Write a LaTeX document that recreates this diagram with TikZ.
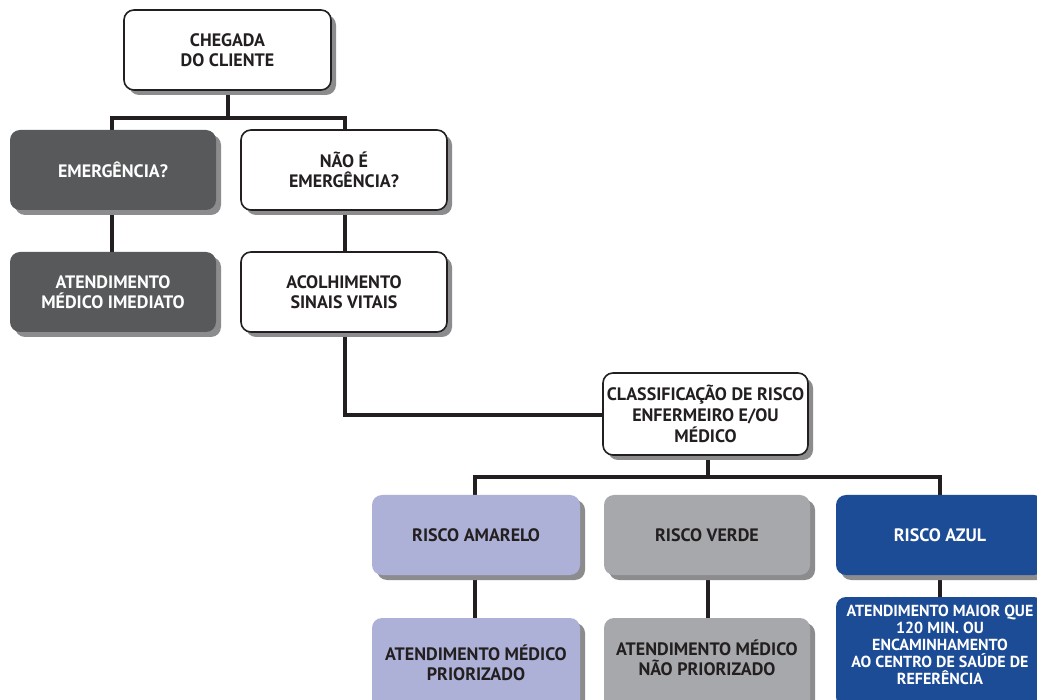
\documentclass[tikz,border=0pt]{standalone}
\usepackage{fontspec}
\setmainfont{PT Sans}
\usetikzlibrary{shadows}
\definecolor{darkbox}{HTML}{58595B}
\definecolor{yellowbox}{HTML}{ADB1D7}
\definecolor{greenbox}{HTML}{A7A8AB}
\definecolor{bluebox}{HTML}{1D4C97}
\definecolor{shadowc}{HTML}{8C8C8E}
\definecolor{txt}{HTML}{231F20}
\tikzset{
  boxfont/.style={font=\bfseries\fontsize{18}{20}\selectfont},
  box/.style={rounded corners=10pt, minimum width=206pt, minimum height=80pt, inner sep=0pt,
    align=center, boxfont,
    drop shadow={shadow xshift=5pt, shadow yshift=-5pt, fill=shadowc, opacity=1}},
  whitebox/.style={box, draw=txt, line width=1.6pt, fill=white, text=txt},
  darkb/.style={box, fill=darkbox, text=white},
  yellowb/.style={box, fill=yellowbox, text=txt},
  greenb/.style={box, fill=greenbox, text=txt},
  blueb/.style={box, fill=bluebox, text=white},
  boxtext/.style={inner sep=0pt, align=center, boxfont},
  conn/.style={line width=4pt, draw=txt}
}
\begin{document}
\begin{tikzpicture}[x=1pt,y=-1pt]
\useasboundingbox (0,0) rectangle (1037,700);
\clip (0,0) rectangle (1037,700);
\fill[white] (0,0) rectangle (1037,700);
% connectors first
\coordinate (b1) at (228,118);
\coordinate (b1l) at (112,118);
\coordinate (b1r) at (345,118);
\coordinate (c1) at (345,415);
\coordinate (b2) at (708,477);
\coordinate (b2l) at (475,477);
\coordinate (b2r) at (940,477);
\draw[conn] (228,60) -- (b1);
\draw[conn] (112,140) -- (b1l) -- (b1r) -- (345,140);
\draw[conn] (112,200) -- (112,260);
\draw[conn] (345,200) -- (345,260);
\draw[conn] (345,320) -- (c1) -- (615,415);
\draw[conn] (708,440) -- (b2);
\draw[conn] (475,510) -- (b2l) -- (b2r) -- (940,510);
\draw[conn] (708,495) -- (708,510);
\draw[conn] (475,560) -- (475,630);
\draw[conn] (708,560) -- (708,630);
\draw[conn] (940,560) -- (940,610);
% nodes
\node[whitebox, minimum width=207pt] (chegada) at (227.5,50) {CHEGADA\\DO CLIENTE};
\node[darkb] (emerg) at (113,170) {EMERGÊNCIA?};
\node[whitebox] (naoe) at (344,170) {NÃO É\\EMERGÊNCIA?};
\node[darkb] (imed) at (113,292) {ATENDIMENTO\\MÉDICO IMEDIATO};
\node[whitebox] (acolh) at (344,292) {ACOLHIMENTO\\SINAIS VITAIS};
\node[whitebox, minimum width=205pt, minimum height=82pt, font=\bfseries\fontsize{18}{21}\selectfont] (classif) at (705.5,414) {CLASSIFICAÇÃO DE RISCO\\ENFERMEIRO E/OU\\MÉDICO};
\node[yellowb, minimum width=208pt] (amarelo) at (476,535) {RISCO AMARELO};
\node[greenb] (verde) at (707,535) {RISCO VERDE};
\node[blueb, minimum width=208pt] (azul) at (940,535) {RISCO AZUL};
\node[yellowb, minimum width=208pt, minimum height=100pt] (amarelo2) at (476,668) {};
\node[boxtext, text=txt] (amarelo2t) at (476,663) {ATENDIMENTO MÉDICO\\PRIORIZADO};
\node[greenb, minimum height=100pt] (verde2) at (707,668) {};
\node[boxtext, text=txt] (verde2t) at (707,658) {ATENDIMENTO MÉDICO\\NÃO PRIORIZADO};
\node[blueb, minimum width=208pt, minimum height=110pt] (azul2) at (940,652) {};
\node[boxtext, text=white, font=\bfseries\fontsize{16}{17}\selectfont] (azul2t) at (940,645) {ATENDIMENTO MAIOR QUE\\120 MIN. OU\\ENCAMINHAMENTO\\AO CENTRO DE SAÚDE DE\\REFERÊNCIA};
\end{tikzpicture}
\end{document}
